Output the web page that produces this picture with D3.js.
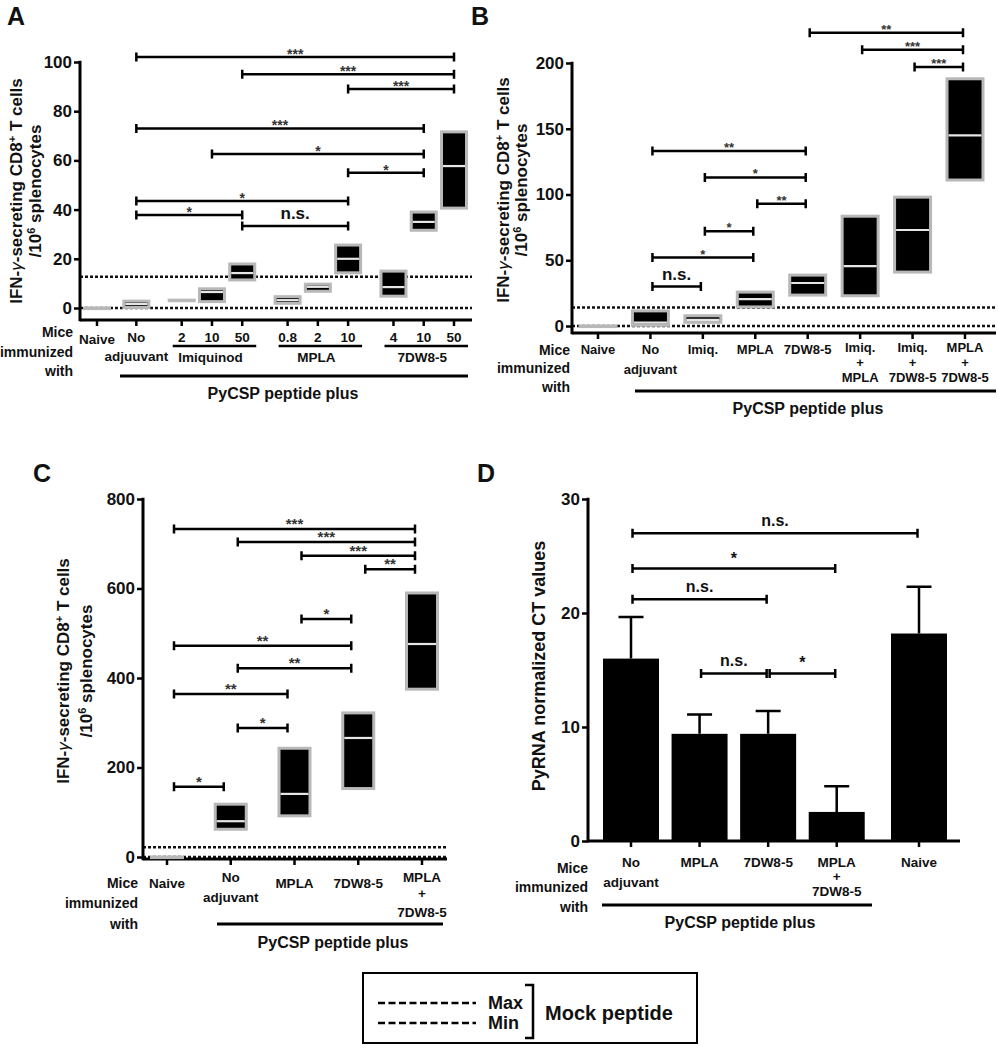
<!DOCTYPE html>
<html><head><meta charset="utf-8">
<script src="https://cdn.jsdelivr.net/npm/d3@7"></script>
<style>
body{margin:0;background:#fff}
svg text{font-family:'Liberation Sans',Arial,Helvetica,sans-serif;font-weight:bold;fill:#111}
</style>
</head><body>
<svg id="chart" width="998" height="1050"></svg>
<script>
// ================= DATA =================
// Panel A
const aCats   = ["Naive","No adjuvant","Imiq 2","Imiq 10","Imiq 50","MPLA 0.8","MPLA 2","MPLA 10","7DW 4","7DW 10","7DW 50"];
const aGroups = ["Naive","No adjuvant","Imiquinod","Imiquinod","Imiquinod","MPLA","MPLA","MPLA","7DW8-5","7DW8-5","7DW8-5"];
const aTickText = [["Naive"],["No","adjuuvant"],["2"],["10"],["50"],["0.8"],["2"],["10"],["4"],["10"],["50"]];
const aMin  = [0, 0.2, 3.2, 2.6, 11.4, 1.9, 6.8, 14.3, 4.8, 31.6, 40.6];
const aMax  = [0, 2.8, 3.2, 7.8, 17.9, 4.6, 9.7, 25.6, 15.0, 39.0, 71.6];
const aMean = [0, 1.6, 3.2, 6.5, 14.2, 3.2, 8.6, 20.0, 8.5, 35.0, 57.7];
const aTicks = [0,20,40,60,80,100];
const aMock = [0, 12.7];
const aBrk = [[1,10,102,"***"],[4,10,95,"***"],[7,10,89,"***"],[1,9,73,"***"],[3,9,62.6,"*"],[7,9,55,"*"],[1,7,43.5,"*"],[1,4,37.8,"*"],[4,7,33.3,"n.s."]];

// Panel B
const bCats = ["Naive","No adjuvant","Imiq.","MPLA","7DW8-5","Imiq. + MPLA","Imiq. + 7DW8-5","MPLA + 7DW8-5"];
const bTickText = [["Naive"],["No","adjuvant"],["Imiq."],["MPLA"],["7DW8-5"],["Imiq.","+","MPLA"],["Imiq.","+","7DW8-5"],["MPLA","+","7DW8-5"]];
const bMin  = [0, 0.5, 2.8, 14.5, 23.5, 23, 41, 111];
const bMax  = [0, 11.5, 7.8, 25.8, 38.7, 83.5, 98, 188];
const bMean = [0, 2.5, 4.6, 20.5, 32.7, 45.6, 73, 145];
const bTicks = [0,50,100,150,200];
const bMock = [0, 14];
const bBrk = [[1,4,133,"**"],[2,4,113,"*"],[3,4,93,"**"],[2,3,72,"*"],[1,3,52,"*"],[1,2,30,"n.s."],[4,7,223,"**"],[5,7,210,"***"],[6,7,197,"***"]];

// Panel C
const cCats = ["Naive","No adjuvant","MPLA","7DW8-5","MPLA + 7DW8-5"];
const cTickText = [["Naive"],["No","adjuvant"],["MPLA"],["7DW8-5"],["MPLA","+","7DW8-5"]];
const cMin  = [0, 62, 92, 153, 375];
const cMax  = [0, 118, 243, 322, 590];
const cMean = [0, 80, 141, 266, 476];
const cTicks = [0,200,400,600,800];
const cMock = [0, 22];
const cBrk = [[0,4,733,"***"],[1,4,704,"***"],[2,4,673,"***"],[3,4,643,"**"],[2,3,532,"*"],[0,3,472,"**"],[1,3,422,"**"],[0,2,364,"**"],[1,2,288,"*"],[0,1,157,"*"]];

// Panel D
const dCats = ["No adjuvant","MPLA","7DW8-5","MPLA + 7DW8-5","Naive"];
const dTickText = [["No","adjuvant"],["MPLA"],["7DW8-5"],["MPLA","+","7DW8-5"],["Naive"]];
const dInPeptide = [true,true,true,true,false];
const dMean = [16.0, 9.4, 9.4, 2.55, 18.2];
const dErr  = [3.65, 1.7, 2.0, 2.25, 4.1];
const dTicks = [0,10,20,30];
const dBrk = [[0,4,27.0,"n.s."],[0,3,23.9,"*"],[0,2,21.2,"n.s."],[1,2,14.7,"n.s."],[2,3,14.7,"*"]];

// ================= HELPERS =================
const svg = d3.select("#chart");
const BOX_STROKE = "#b8b8b8";

function yAxis(g, y, x0, ticks, bottom){
  const ax = g.append("g").attr("transform",`translate(${x0},0)`)
    .call(d3.axisLeft(y).tickValues(ticks).tickSize(6).tickSizeOuter(0).tickPadding(2));
  ax.attr("font-family",null).attr("font-size",17);
  ax.select(".domain").remove();
  ax.selectAll(".tick line").attr("stroke","#000").attr("stroke-width",2.5);
  ax.selectAll(".tick text").style("fill","#111");
  g.append("line").attr("x1",x0).attr("x2",x0).attr("y1",y(d3.max(ticks))-1.2).attr("y2",bottom+1.2)
    .attr("stroke","#000").attr("stroke-width",3);
}
function xAxis(g, positions, x0, x1, yA){
  g.append("line").attr("x1",x0).attr("x2",x1).attr("y1",yA).attr("y2",yA).attr("stroke","#000").attr("stroke-width",3);
  g.selectAll(null).data(positions).enter().append("line")
    .attr("x1",d=>d).attr("x2",d=>d).attr("y1",yA).attr("y2",yA+6).attr("stroke","#000").attr("stroke-width",2.5);
}
function mockLines(g, y, vals, x0, x1){
  vals.forEach(v=>{
    g.append("line").attr("x1",x0).attr("x2",x1).attr("y1",y(v)).attr("y2",y(v))
      .attr("stroke","#111").attr("stroke-width",2.5).attr("stroke-dasharray","3,2");
  });
}
function boxes(g, xs, y, mins, maxs, means, w){
  mins.forEach((mn,i)=>{
    const top = y(maxs[i]), bot = y(mn);
    const h = Math.max(bot-top, 0.6);
    g.append("rect").attr("x",xs[i]-w/2).attr("y",top).attr("width",w).attr("height",h)
      .attr("fill","#000").attr("stroke",BOX_STROKE).attr("stroke-width",3);
    if (bot-top > 4){
      g.append("line").attr("x1",xs[i]-w/2+1.5).attr("x2",xs[i]+w/2-1.5).attr("y1",y(means[i])).attr("y2",y(means[i]))
        .attr("stroke","#e6e6e6").attr("stroke-width",2.2);
    }
  });
}
function brackets(g, list, xs, y, o){
  list.forEach(([a,b,v,lab])=>{
    const x1 = xs[a]+o.inset, x2 = xs[b]-o.inset, yy = y(v), t = 4.5;
    g.append("path").attr("d",`M${x1},${yy-t}V${yy+t}M${x1},${yy}H${x2}M${x2},${yy-t}V${yy+t}`)
      .attr("stroke","#000").attr("stroke-width",2.5).attr("fill","none");
    const ns = lab==="n.s.";
    g.append("text").attr("x",(x1+x2)/2).attr("y",yy+(ns?o.nsDy:o.starDy)).attr("text-anchor","middle")
      .attr("font-size",ns?o.nsSize:o.starSize).style("fill",ns?"#111":o.starColor).text(lab);
  });
}
function catLabels(g, xs, texts, rowsY, size){
  texts.forEach((lines,i)=>{
    const ys = rowsY[lines.length];
    lines.forEach((t,j)=>{
      g.append("text").attr("x",xs[i]).attr("y",ys[j]+size*0.36).attr("text-anchor","middle").attr("font-size",size).text(t);
    });
  });
}
function miceLabel(g, x, ys){
  ["Mice","immunized","with"].forEach((t,j)=>{
    g.append("text").attr("x",x).attr("y",ys[j]+5).attr("text-anchor","end").attr("font-size",14).text(t);
  });
}
function pyLine(g, x0, x1, yl, cx, ty){
  g.append("line").attr("x1",x0).attr("x2",x1).attr("y1",yl).attr("y2",yl).attr("stroke","#000").attr("stroke-width",3);
  g.append("text").attr("x",cx).attr("y",ty+6).attr("text-anchor","middle").attr("font-size",16).text("PyCSP peptide plus");
}
function ifnLabel(g, x1, x2, cy){
  const t1 = g.append("text").attr("transform",`translate(${x1},${cy}) rotate(-90)`).attr("text-anchor","middle").attr("font-size",17);
  t1.append("tspan").text("IFN-");
  t1.append("tspan").attr("font-style","italic").style("font-weight","normal").text("γ");
  t1.append("tspan").text("-secreting CD8");
  t1.append("tspan").attr("dy",-6).attr("font-size",11).text("+");
  t1.append("tspan").attr("dy",6).text(" T cells");
  const t2 = g.append("text").attr("transform",`translate(${x2},${cy}) rotate(-90)`).attr("text-anchor","middle").attr("font-size",17);
  t2.append("tspan").text("/10");
  t2.append("tspan").attr("dy",-6).attr("font-size",11).text("6");
  t2.append("tspan").attr("dy",6).text(" splenocytes");
}
function panelLetter(x, y, t){
  svg.append("text").attr("x",x).attr("y",y).attr("font-size",25).text(t);
}

// ================= PANEL A =================
{
  const g = svg.append("g");
  let s = 0;
  const slots = aGroups.map((gr,i)=>{ if(i>0){ s += gr===aGroups[i-1] ? 1 : (i===1 ? 1.3 : 1.5); } return s; });
  const x = d3.scaleLinear().domain([0, d3.max(slots)]).range([97,454]);
  const y = d3.scaleLinear().domain([0,100]).range([308,62]);
  const xs = slots.map(x);
  mockLines(g, y, aMock, 80, 472);
  yAxis(g, y, 80, aTicks, 320);
  xAxis(g, xs, 80, 472, 320);
  boxes(g, xs, y, aMin, aMax, aMean, 25);
  brackets(g, aBrk, xs, y, {inset:0, starSize:14, starDy:2, starColor:"#333", nsSize:17, nsDy:-7});
  aTickText.forEach((lines,i)=>{
    const single = i===0 ? [339] : [337];
    const ys = lines.length===1 ? single : [337,356];
    lines.forEach((t,j)=> g.append("text").attr("x",xs[i]).attr("y",ys[j]+5).attr("text-anchor","middle").attr("font-size",13.5).text(t));
  });
  ["Imiquinod","MPLA","7DW8-5"].forEach(gr=>{
    const idx = aGroups.map((d,i)=>d===gr?i:-1).filter(i=>i>=0);
    const x0 = xs[idx[0]]-9, x1 = xs[idx[idx.length-1]]+14;
    g.append("line").attr("x1",x0).attr("x2",x1).attr("y1",346).attr("y2",346).attr("stroke","#000").attr("stroke-width",2.5);
    g.append("text").attr("x",(x0+x1)/2-4).attr("y",357+5).attr("text-anchor","middle").attr("font-size",13.5).text(gr);
  });
  miceLabel(g, 73, [332,352,371]);
  pyLine(g, 120, 468, 376, 283, 393);
  ifnLabel(g, 22, 41, 191);
  panelLetter(7, 25, "A");
}

// ================= PANEL B =================
{
  const g = svg.append("g");
  const x = d3.scalePoint().domain(bCats).range([598,965]);
  const y = d3.scaleLinear().domain([0,200]).range([326,63]);
  const xs = bCats.map(x);
  mockLines(g, y, bMock, 572, 996);
  yAxis(g, y, 572, bTicks, 333);
  xAxis(g, xs, 572, 996, 333);
  boxes(g, xs, y, bMin, bMax, bMean, 36);
  brackets(g, bBrk, xs, y, {inset:2, starSize:13, starDy:1, starColor:"#333", nsSize:17, nsDy:-7});
  catLabels(g, xs, bTickText, {1:[349],2:[349,369],3:[347,362,377]}, 13);
  miceLabel(g, 570, [350,368,387]);
  pyLine(g, 635, 996, 391, 808, 408);
  ifnLabel(g, 509, 527, 190);
  panelLetter(471, 25, "B");
}

// ================= PANEL C =================
{
  const g = svg.append("g");
  const x = d3.scalePoint().domain(cCats).range([167,422]);
  const y = d3.scaleLinear().domain([0,800]).range([857,499]);
  const xs = cCats.map(x);
  mockLines(g, y, cMock, 143, 447);
  yAxis(g, y, 143, cTicks, 859);
  xAxis(g, xs, 143, 447, 859);
  boxes(g, xs, y, cMin, cMax, cMean, 31);
  brackets(g, cBrk, xs, y, {inset:7, starSize:15, starDy:0, starColor:"#333", nsSize:17, nsDy:-7});
  catLabels(g, xs, cTickText, {1:[883],2:[877,897],3:[877,893,912]}, 13.5);
  miceLabel(g, 138, [883,903,924]);
  pyLine(g, 217, 443, 924, 333, 942);
  ifnLabel(g, 69, 92, 671);
  panelLetter(33, 482, "C");
}

// ================= PANEL D =================
{
  const g = svg.append("g");
  let s = 0;
  const slots = dInPeptide.map((p,i)=>{ if(i>0){ s += p===dInPeptide[i-1] ? 1 : 1.2; } return s; });
  const x = d3.scaleLinear().domain([0, d3.max(slots)]).range([631,919]);
  const y = d3.scaleLinear().domain([0,30]).range([841,499]);
  const xs = slots.map(x);
  const bw = 56;
  dMean.forEach((m,i)=>{
    const yt = y(m+dErr[i]);
    g.append("path").attr("d",`M${xs[i]},${y(m)}V${yt}M${xs[i]-12.5},${yt}H${xs[i]+12.5}`)
      .attr("stroke","#000").attr("stroke-width",2.5).attr("fill","none");
  });
  g.selectAll(null).data(dMean).enter().append("rect")
    .attr("x",(d,i)=>xs[i]-bw/2).attr("y",d=>y(d)).attr("width",bw).attr("height",d=>y(0)-y(d)).attr("fill","#000");
  yAxis(g, y, 588, dTicks, 841);
  xAxis(g, xs, 588, 960, 841);
  brackets(g, dBrk, xs, y, {inset:1.5, starSize:16, starDy:-5, starColor:"#111", nsSize:16, nsDy:-7});
  catLabels(g, xs, dTickText, {1:[862],2:[862,882],3:[862,876,891]}, 13.5);
  miceLabel(g, 588, [868,887,907]);
  pyLine(g, 602, 872, 905, 740, 922);
  g.append("text").attr("transform","translate(545,666) rotate(-90)").attr("text-anchor","middle").attr("font-size",18)
    .text("PyRNA normalized CT values");
  panelLetter(477, 482, "D");
}

// ================= LEGEND =================
{
  const g = svg.append("g");
  g.append("rect").attr("x",363).attr("y",973).attr("width",334).attr("height",70).attr("fill","none").attr("stroke","#000").attr("stroke-width",2);
  [["Max",1003],["Min",1023]].forEach(([t,yy])=>{
    g.append("line").attr("x1",378).attr("x2",476).attr("y1",yy).attr("y2",yy).attr("stroke","#000").attr("stroke-width",2.5).attr("stroke-dasharray","7,3.5");
    g.append("text").attr("x",488).attr("y",yy+6).attr("font-size",18).text(t);
  });
  g.append("path").attr("d","M525,985H533V1038H525").attr("fill","none").attr("stroke","#000").attr("stroke-width",2.5);
  g.append("text").attr("x",545).attr("y",1020).attr("font-size",20).text("Mock peptide");
}
</script>
</body></html>
